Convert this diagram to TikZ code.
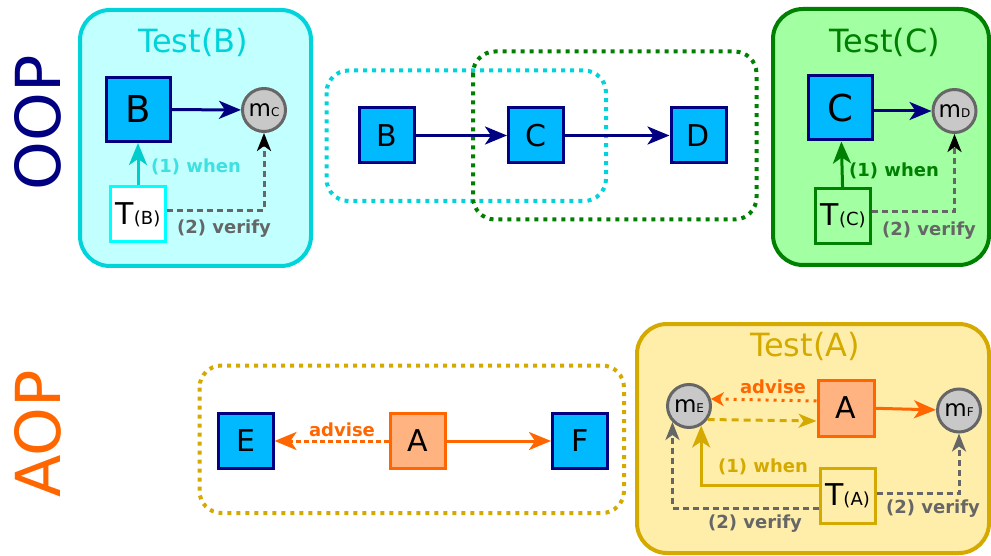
\documentclass[tikz,border=0pt]{standalone}
\usepackage{fontspec}
\setmainfont{DejaVu Sans}
\usetikzlibrary{arrows.meta,calc}

\definecolor{navyc}{HTML}{000080}
\definecolor{boxblue}{HTML}{00B9FF}
\definecolor{cyanb}{HTML}{00D4DA}
\definecolor{cyanfill}{HTML}{C2FFFF}
\definecolor{cyanbright}{HTML}{00FFFF}
\definecolor{cyanlabel}{HTML}{3FE0E0}
\definecolor{cyanarrow}{HTML}{00CCCC}
\definecolor{greenb}{HTML}{008000}
\definecolor{greenfill}{HTML}{A2FFA2}
\definecolor{grayc}{HTML}{666666}
\definecolor{circfill}{HTML}{C8C8C8}
\definecolor{orangec}{HTML}{FF6600}
\definecolor{orangefill}{HTML}{FFB380}
\definecolor{goldc}{HTML}{D4AA00}
\definecolor{goldfill}{HTML}{FFEEAA}

\newcommand{\tsub}[2]{#1{\fontsize{18}{18}\selectfont(#2)}}
\newcommand{\msub}[1]{m{\fontsize{12}{12}\selectfont #1}}

\tikzset{
  container/.style={draw, line width=4pt, rounded corners=30pt, inner sep=0pt},
  group/.style={draw, line width=4pt, rounded corners=22pt, dash pattern=on 4pt off 5pt},
  cls/.style={draw=navyc, fill=boxblue, line width=3pt, minimum size=#1, inner sep=0pt},
  cls/.default=55pt,
  aspect/.style={draw=orangec, fill=orangefill, line width=3pt, minimum size=#1, inner sep=0pt},
  aspect/.default=55pt,
  testbox/.style={draw=#1, line width=3pt, minimum size=55pt, inner sep=0pt, font=\fontsize{30}{30}\selectfont},
  mock/.style={circle, draw=grayc, fill=circfill, line width=3pt, minimum size=43pt, inner sep=0pt, font=\fontsize{23}{23}\selectfont},
  title/.style={font=\fontsize{32}{32}\selectfont},
  lbl/.style={font=\fontsize{18}{18}\selectfont\bfseries},
  big/.style={font=\fontsize{37}{37}\selectfont},
  mid/.style={font=\fontsize{30}{30}\selectfont},
  bigtip/.tip={Stealth[length=22pt 0, width=18pt 0, inset=6pt 0]},
  midtip/.tip={Stealth[length=18pt 0, width=14pt 0, inset=5pt 0]},
  smalltip/.tip={Stealth[length=13pt 0, width=14pt 0, inset=4pt 0]},
  arr/.style={line width=3pt, -bigtip},
  smallarr/.style={line width=3pt, -smalltip},
  varr/.style={line width=3pt, dash pattern=on 6pt off 4pt, draw=grayc, -{midtip[#1]}},
  varr/.default=grayc,
}

\begin{document}
\begin{tikzpicture}[x=1pt,y=-1pt]
\useasboundingbox (0,0) rectangle (991,556);

% ---------- side labels ----------
\node[rotate=90, text=navyc, font=\fontsize{62}{62}\selectfont] (oop) at (37.5,123) {OOP};
\node[rotate=90, text=orangec, font=\fontsize{62}{62}\selectfont] (aop) at (37.5,434) {AOP};

% ---------- Test(B) ----------
\node[container, draw=cyanb, fill=cyanfill, minimum width=231pt, minimum height=256pt] (testB) at (195.5,138) {};
\node[title, text=cyanb] (testBt) at (193,42.5) {Test(B)};
\node[cls=64pt, big] (Bt) at (138,109.5) {B};
\node[mock] (mC) at (264,110) {\msub{C}};
\node[testbox=cyanbright, fill=white] (TB) at (138,214.5) {\tsub{T}{B}};
\draw[arr, navyc] (Bt) -- (mC);
\draw[arr, cyanarrow] (TB) -- (Bt);
\node[lbl, text=cyanlabel] (whenB) at (196,167) {(1) when};
\draw[varr=black] ([yshift=4pt]TB.east) -| (mC.south);
\node[lbl, text=grayc] (verB) at (224,229) {(2) verify};

% ---------- class chain B -> C -> D ----------
\draw[group, draw=cyanb] (326.5,70.5) rectangle (606,201) coordinate (gB);
\draw[group, draw=greenb] (473,51.5) rectangle (756.5,219.5) coordinate (gC);
\node[cls, mid] (B) at (386.5,135.5) {B};
\node[cls, mid] (C) at (536,135.5) {C};
\node[cls, mid] (D) at (698.5,135.5) {D};
\draw[arr, navyc] (B) -- (C);
\draw[arr, navyc] (C) -- (D);

% ---------- Test(C) ----------
\node[container, draw=greenb, fill=greenfill, minimum width=216pt, minimum height=256pt] (testC) at (881,137) {};
\node[title, text=greenb] (testCt) at (885,42) {Test(C)};
\node[cls=64pt, big] (Ct) at (840.5,108) {C};
\node[mock] (mD) at (954.5,111) {\msub{D}};
\node[testbox=greenb] (TC) at (843.3,216) {\tsub{T}{C}};
\draw[arr, navyc] ([yshift=-3pt]Ct.east) -- (mD.west);
\draw[arr, greenb] (TC) -- (Ct);
\node[lbl, text=greenb] (whenC) at (894,171) {(1) when};
\draw[varr=black] ([yshift=4pt]TC.east) -| (mD.south);
\node[lbl, text=grayc] (verC) at (929,231) {(2) verify};

% ---------- aspect A advising E, around F ----------
\draw[group, draw=goldc] (199.5,365.5) rectangle (624,513) coordinate (gA);
\node[cls, mid] (E) at (245.5,441) {E};
\node[aspect, mid] (A) at (417.5,441) {A};
\node[cls, mid] (F) at (580,441) {F};
\draw[arr, orangec] (A) -- (F);
\draw[arr, orangec, dash pattern=on 5pt off 3pt] (A) -- (E);
\node[lbl, text=orangec] (advA) at (342,430) {advise};

% ---------- Test(A) ----------
\node[container, draw=goldc, fill=goldfill, minimum width=352pt, minimum height=229pt] (testA) at (813,438.5) {};
\node[title, text=goldc] (testAt) at (805,346) {Test(A)};
\node[mock] (mE) at (689,406) {\msub{E}};
\node[aspect=56pt, mid] (At) at (846,408) {A};
\node[mock] (mF) at (959,410.5) {\msub{F}};
\node[testbox=goldc] (TA) at (847.5,496) {\tsub{T}{A}};
\draw[arr, orangec] ([yshift=-0.3pt]At.east) -- (mF);
\draw[smallarr, orangec, dash pattern=on 3pt off 5pt] ([yshift=7pt]At.west) -- (mE.18);
\node[lbl, text=orangec] (advT) at (773,387) {advise};
\draw[line width=3pt, goldc, dash pattern=on 7pt off 5pt, -midtip] (mE.-36) -- ([yshift=-13pt]At.west);
\draw[arr, goldc] ([yshift=11pt]TA.west) -| (mE.-58);
\node[lbl, text=goldc] (whenA) at (763,467) {(1) when};
\draw[varr] ([yshift=-12pt]TA.west) -| (mE.-136);
\node[lbl, text=grayc] (verA1) at (755,524) {(2) verify};
\draw[varr] ([yshift=3pt]TA.east) -| (mF.south);
\node[lbl, text=grayc] (verA2) at (933,509) {(2) verify};
\end{tikzpicture}
\end{document}
